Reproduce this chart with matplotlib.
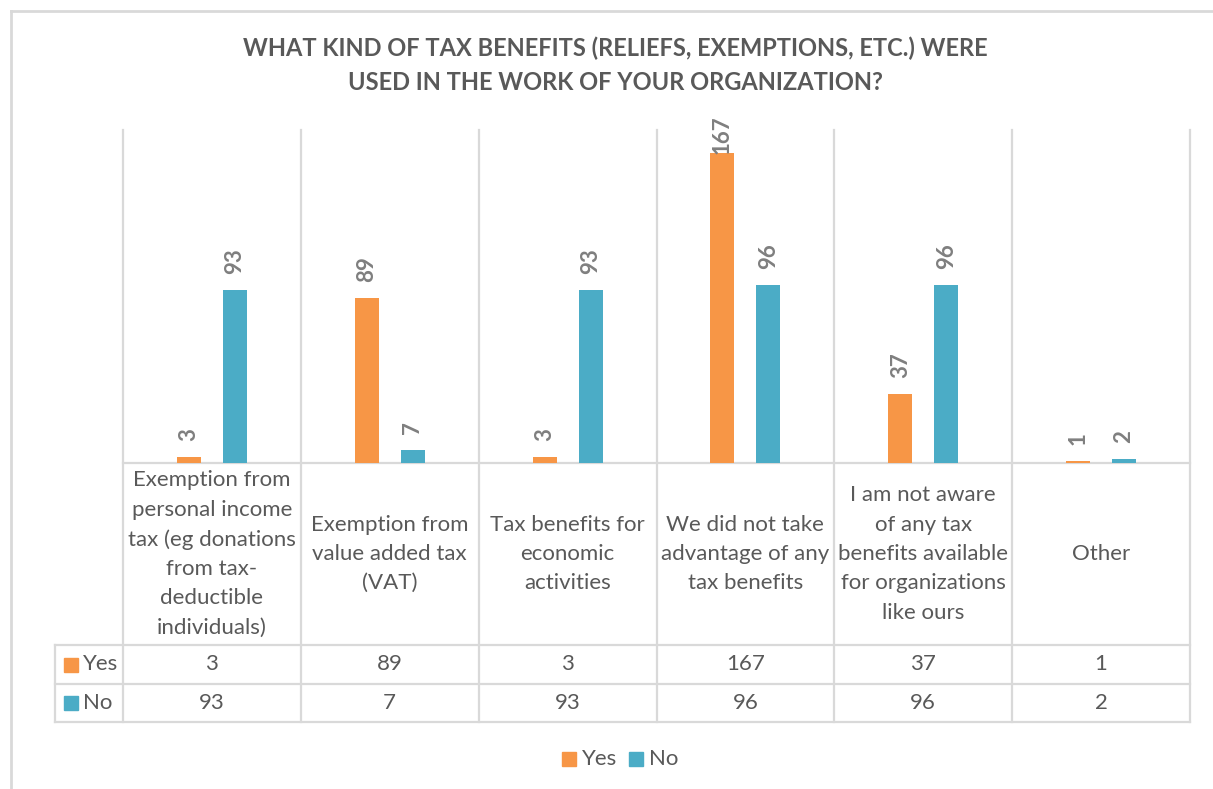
import matplotlib
matplotlib.use("Agg")
import matplotlib.pyplot as plt
from matplotlib.patches import Rectangle
from matplotlib.lines import Line2D
import matplotlib.transforms as mtransforms

categories = [
    "Exemption from\npersonal income\ntax (eg donations\nfrom tax-\ndeductible\nindividuals)",
    "Exemption from\nvalue added tax\n(VAT)",
    "Tax benefits for\neconomic\nactivities",
    "We did not take\nadvantage of any\ntax benefits",
    "I am not aware\nof any tax\nbenefits available\nfor organizations\nlike ours",
    "Other",
]
yes_values = [3, 89, 3, 167, 37, 1]
no_values = [93, 7, 93, 96, 96, 2]
series_names = ["Yes", "No"]
title = "WHAT KIND OF TAX BENEFITS (RELIEFS, EXEMPTIONS, ETC.) WERE\nUSED IN THE WORK OF YOUR ORGANIZATION?"

ORANGE = "#F79646"
BLUE = "#4BACC6"
GRID = "#D9D9D9"
TXT = "#595959"
LBL = "#7F7F7F"
FONT = ["Lato", "DejaVu Sans"]

W, H = 1213, 789
fig = plt.figure(figsize=(W / 100, H / 100), dpi=100)
fig.patch.set_facecolor("white")


def fx(px):
    return px / W


def fy(py):
    return 1 - py / H


def hline(y, x0, x1, lw=1.6):
    fig.add_artist(Line2D([fx(x0), fx(x1)], [fy(y), fy(y)], color=GRID, lw=lw,
                          transform=fig.transFigure, zorder=0))


def vline(x, y0, y1, lw=1.6):
    fig.add_artist(Line2D([fx(x), fx(x)], [fy(y0), fy(y1)], color=GRID, lw=lw,
                          transform=fig.transFigure, zorder=0))


# outer chart border
vline(11, 11, 800, lw=2)
hline(11, 11, 1220, lw=2)

# plot area geometry (pixels)
L, R, TOP, BASE = 123, 1190, 130, 463
ax = fig.add_axes([fx(L), fy(BASE), fx(R) - fx(L), fy(TOP) - fy(BASE)])
n = len(categories)
ymax = 179.4
ax.set_xlim(0, n)
ax.set_ylim(0, ymax)
ax.axis("off")

off = 0.129
bw = 0.135
xs = [i + 0.5 for i in range(n)]
ax.bar([x - off for x in xs], yes_values, width=bw, color=ORANGE, zorder=3)
ax.bar([x + off for x in xs], no_values, width=bw, color=BLUE, zorder=3)

# data labels
px_per_unit = (BASE - TOP) / ymax
lab_top_limit = (BASE - 115) / px_per_unit
for xs_off, vals in ((-off, yes_values), (off, no_values)):
    for x, v in zip(xs, vals):
        gap = 16 / px_per_unit
        length = len(str(v)) * 13 / px_per_unit
        yb = v + gap
        if yb + length > lab_top_limit:
            yb = lab_top_limit - length
        ax.text(x + xs_off, yb, str(v), rotation=90, ha="center", va="bottom",
                fontsize=16, fontweight="bold", color=LBL, family=FONT,
                clip_on=False, zorder=4)

# table grid
cat_bottom, row1, row2 = 645, 684, 722
col_w = (R - L) / n
hline(BASE, L, R)
hline(cat_bottom, 55, R)
hline(row1, 55, R)
hline(row2, 55, R)
vline(55, cat_bottom, row2)
for i in range(n + 1):
    vline(L + i * col_w, TOP, row2)

blend = mtransforms.blended_transform_factory(ax.transData, fig.transFigure)
for i, c in enumerate(categories):
    ax.text(i + 0.5, fy((BASE + cat_bottom) / 2), c, transform=blend,
            ha="center", va="center", fontsize=16, color=TXT, family=FONT,
            linespacing=1.58)
    ax.text(i + 0.5, fy((cat_bottom + row1) / 2), str(yes_values[i]), transform=blend,
            ha="center", va="center", fontsize=16, color=TXT, family=FONT)
    ax.text(i + 0.5, fy((row1 + row2) / 2), str(no_values[i]), transform=blend,
            ha="center", va="center", fontsize=16, color=TXT, family=FONT)

# row headers
for (yc, name, col) in (((cat_bottom + row1) / 2, series_names[0], ORANGE),
                        ((row1 + row2) / 2, series_names[1], BLUE)):
    fig.add_artist(Rectangle((fx(64), fy(yc + 7)), fx(14), 14 / H, color=col,
                             transform=fig.transFigure))
    fig.text(fx(83), fy(yc), name, ha="left", va="center", fontsize=16,
             color=TXT, family=FONT)

# legend
for (x0, name, col) in ((562, series_names[0], ORANGE), (629, series_names[1], BLUE)):
    fig.add_artist(Rectangle((fx(x0), fy(766)), fx(14), 14 / H, color=col,
                             transform=fig.transFigure))
    fig.text(fx(x0 + 20), fy(759), name, ha="left", va="center", fontsize=16,
             color=TXT, family=FONT)

# title
fig.text(fx(615), fy(65), title, ha="center", va="center", fontsize=17,
         fontweight="bold", color=TXT, family=FONT, linespacing=1.6)

fig.savefig("out.png", dpi=100, facecolor="white")
